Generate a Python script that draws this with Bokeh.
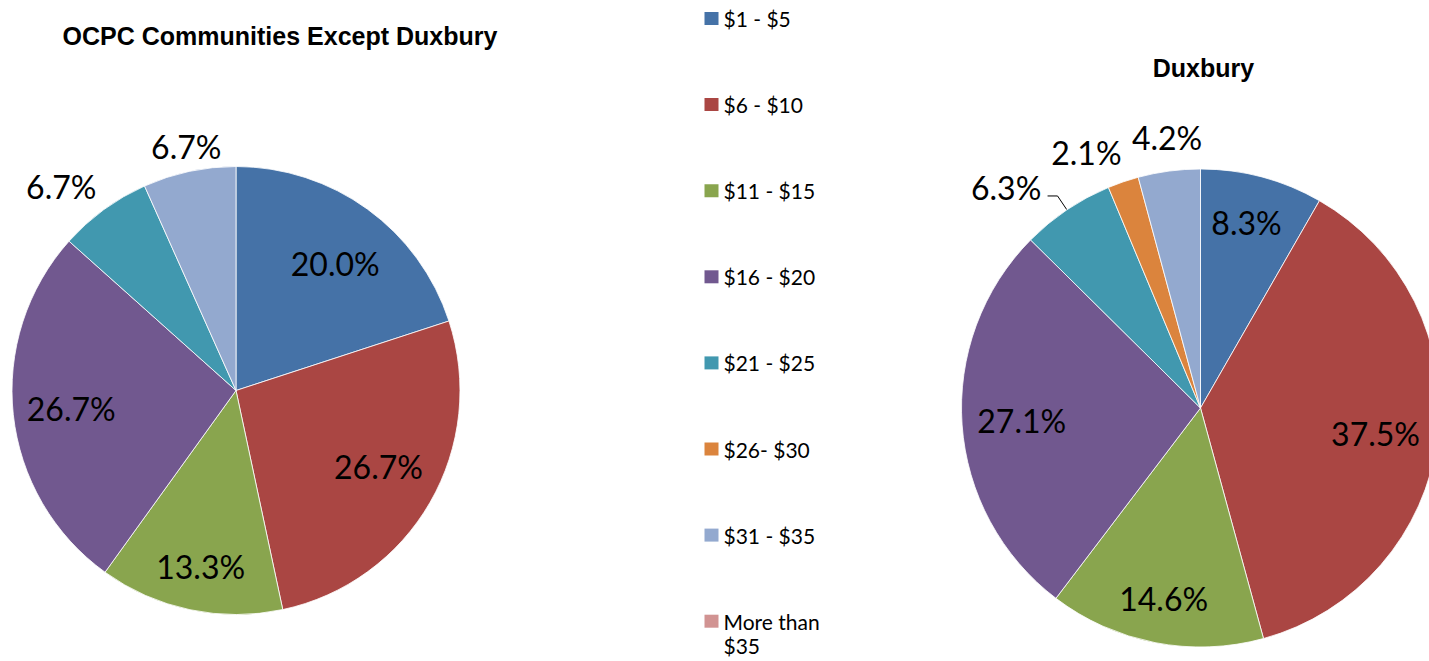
import math
from bokeh.plotting import figure
from bokeh.models import Range1d
from bokeh.core.properties import value
from bokeh.embed import file_html
from bokeh.resources import INLINE

# ---------------- data ----------------
categories = ["$1 - $5", "$6 - $10", "$11 - $15", "$16 - $20", "$21 - $25",
              "$26- $30", "$31 - $35", "More than $35"]
colors = ["#4572A7", "#AA4643", "#89A54E", "#71588F", "#4198AF",
          "#DB843D", "#93A9CF", "#D19392"]
ocpc_pct = [20.0, 26.7, 13.3, 26.7, 6.7, 0.0, 6.7, 0.0]
duxbury_pct = [8.3, 37.5, 14.6, 27.1, 6.3, 2.1, 4.2, 0.0]
titles = ["OCPC Communities Except Duxbury", "Duxbury"]

# ---------------- layout / style ----------------
W, H = 1429, 661


def sx(x):
    return x


def sy(y):
    return H - y


pies = [
    dict(values=ocpc_pct, cx=235.5, cy=390, r=224,
         title=titles[0], tx=279.5, ty=35,
         lab_f=[0.72, 0.72, 0.80, 0.74, 1.20, 1.2, 1.11, 1.1],
         lab_n=[2.0, -2.0, -0.5, 0.0, -4.4, 0.0, 0.5, 0.0],
         leader=[]),
    dict(values=duxbury_pct, cx=1200, cy=407.5, r=239,
         title=titles[1], tx=1203, ty=67,
         lab_f=[0.80, 0.74, 0.81, 0.75, 1.23, 1.17, 1.14, 1.1],
         lab_n=[-1.0, 1.0, 0.0, 0.0, -7.4, -5.2, 0.5, 0.0],
         leader=[4]),
]

LABEL_FONT = value("Lato")
LABEL_SIZE = "32px"

p = figure(width=W, height=H, x_range=Range1d(0, W), y_range=Range1d(0, H),
           output_backend="svg", toolbar_location=None, min_border=0,
           x_axis_location=None, y_axis_location=None)
p.grid.visible = False
p.outline_line_color = None
p.background_fill_color = "white"
p.border_fill_color = "white"

for pie in pies:
    vals = pie["values"]
    total = sum(vals)
    cx, cy, R = sx(pie["cx"]), sy(pie["cy"]), pie["r"]
    cum = 0.0
    ws = dict(x=[], y=[], start=[], end=[], color=[])
    lx, ly, lt = [], [], []
    for i, v in enumerate(vals):
        c0, c1 = cum, cum + v
        cum = c1
        if v <= 0:
            continue
        ws["x"].append(cx)
        ws["y"].append(cy)
        ws["start"].append(math.pi / 2 - 2 * math.pi * c0 / total)
        ws["end"].append(math.pi / 2 - 2 * math.pi * c1 / total)
        ws["color"].append(colors[i])
        mid = 360.0 * (c0 + c1) / 2 / total
        th = math.radians(mid + pie["lab_n"][i])
        f = pie["lab_f"][i]
        lx.append(cx + f * R * math.sin(th))
        ly.append(cy + f * R * math.cos(th))
        lt.append(f"{v:.1f}%")
        if i in pie["leader"]:
            thm = math.radians(mid)
            x0, y0 = cx + R * math.sin(thm), cy + R * math.cos(thm)
            x1, y1 = cx + 1.07 * R * math.sin(thm), cy + 1.07 * R * math.cos(thm)
            p.line([x0, x1, x1 - 10], [y0, y1, y1], line_color="black", line_width=1)
    p.wedge(x="x", y="y", radius=R, start_angle="start", end_angle="end",
            direction="clock", fill_color="color", line_color="white",
            line_width=1, line_alpha=0.8, source=ws)
    p.text(x=lx, y=ly, text=lt, text_font=LABEL_FONT, text_font_size=LABEL_SIZE,
           text_align="center", text_baseline="middle", text_color="black")
    p.text(x=[sx(pie["tx"])], y=[sy(pie["ty"])], text=[pie["title"]],
           text_font=value("Liberation Sans"), text_font_size="25px",
           text_font_style="bold", text_align="center", text_baseline="middle",
           text_color="black")

# ---------------- legend ----------------
leg_x, leg_y0, leg_dy = 711, 18, 86.1
sq_x, sq_y, tx_x, tx_y, tx_t = [], [], [], [], []
for i, cat in enumerate(categories):
    yc = leg_y0 + i * leg_dy
    sq_x.append(sx(leg_x))
    sq_y.append(sy(yc))
    parts = cat.split(" ")
    if len(cat) > 10:
        lines = [" ".join(parts[:-1]), parts[-1]]
    else:
        lines = [cat]
    for j, ln in enumerate(lines):
        tx_x.append(sx(leg_x + 12))
        tx_y.append(sy(yc + j * 24))
        tx_t.append(ln)
p.rect(x=sq_x, y=sq_y, width=14, height=13, fill_color=colors, line_color=None)
p.text(x=tx_x, y=tx_y, text=tx_t, text_font=LABEL_FONT, text_font_size="21px",
       text_align="left", text_baseline="middle", text_color="black")

open("out.html", "w").write(file_html(p, INLINE))
